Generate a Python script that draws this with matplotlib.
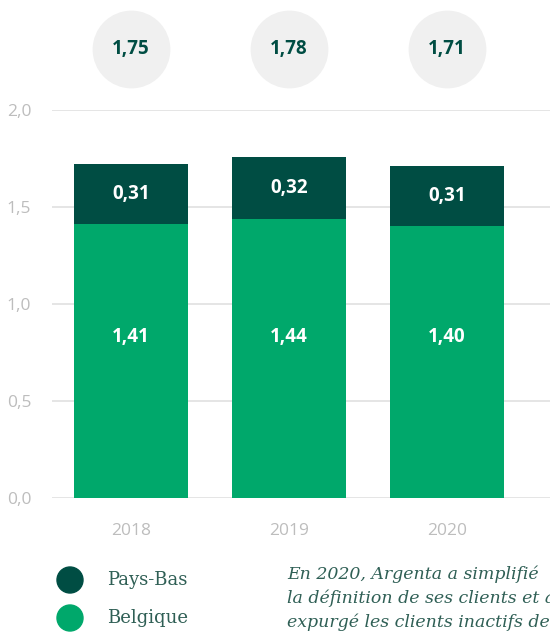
import numpy as np
import matplotlib
matplotlib.use("Agg")
import matplotlib.pyplot as plt
import matplotlib.patches as mpatches
import matplotlib.transforms as mtransforms

years = ["2018", "2019", "2020"]
belgique = [1.41, 1.44, 1.40]
pays_bas = [0.31, 0.32, 0.31]
totals = [1.75, 1.78, 1.71]
yticks = [0.0, 0.5, 1.0, 1.5, 2.0]
note = ["En 2020, Argenta a simplifié",
        "la définition de ses clients et a",
        "expurgé les clients inactifs des"]

dark = "#004d43"
light = "#00a86b"
grey = "#bdbdbd"
textgreen = "#2f5f55"

fig = plt.figure(figsize=(5.5, 6.34), dpi=100)
ax = fig.add_axes([52 / 550, 136 / 634, 498 / 550, 388 / 634])

x = np.arange(len(years))
w = 0.72
ax.bar(x, belgique, w, color=light, zorder=2)
ax.bar(x, pays_bas, w, bottom=belgique, color=dark, zorder=2)

def fmt(v):
    return f"{v:.2f}".replace(".", ",")

for i in x:
    ax.text(i, 0.83, fmt(belgique[i]), ha="center", va="center",
            color="white", fontsize=13.5, fontweight="bold", family="Open Sans")
    ax.text(i, belgique[i] + pays_bas[i] / 2, fmt(pays_bas[i]),
            ha="center", va="center", color="white", fontsize=13.5,
            fontweight="bold", family="Open Sans")

# circles with totals above the plot
trans = mtransforms.blended_transform_factory(ax.transData, ax.transAxes)
cy = 1 + (110 - 49) / 388
ax.scatter(x, [cy] * len(x), s=56 ** 2, color="#f0f0f0", transform=trans,
           clip_on=False, zorder=3, linewidths=0)
for i in x:
    ax.text(i, cy, fmt(totals[i]), transform=trans, ha="center",
            va="center", color=dark, fontsize=13.5, fontweight="bold",
            family="Open Sans", zorder=4)

ax.set_xlim(-0.5, 2.652)
ax.set_ylim(0, 2.0)
ax.set_yticks(yticks)
ax.set_yticklabels([f"{v:.1f}".replace(".", ",") for v in yticks])
ax.set_xticks(x)
ax.set_xticklabels(years)
ax.tick_params(length=0, colors=grey, labelsize=12.5)
ax.tick_params(axis="y", pad=15)
ax.tick_params(axis="x", pad=18)
for lab in ax.get_xticklabels() + ax.get_yticklabels():
    lab.set_family("Open Sans")
ax.grid(axis="y", color="#e0e0e0", lw=1.2, zorder=0)
for s in ax.spines.values():
    s.set_visible(False)

# legend
inch = fig.dpi_scale_trans
for yy, col in [(580, dark), (618, light)]:
    fig.add_artist(mpatches.Circle((0.70, (634 - yy) / 100), 0.13, color=col,
                                   transform=inch))
fig.text(107 / 550, 1 - 580 / 634, "Pays-Bas", va="center", color=textgreen,
         fontsize=13, family="DejaVu Serif")
fig.text(107 / 550, 1 - 618 / 634, "Belgique", va="center", color=textgreen,
         fontsize=13, family="DejaVu Serif")

for k, line in enumerate(note):
    fig.text(287 / 550, 1 - (574 + 24 * k) / 634, line, va="center", color=textgreen,
             fontsize=12.5, style="italic", family="DejaVu Serif")

fig.savefig("out.png", dpi=100)
